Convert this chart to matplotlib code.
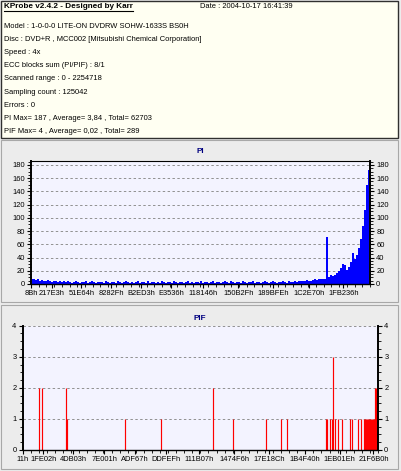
import numpy as np
import matplotlib.pyplot as plt
from matplotlib.patches import Rectangle
from matplotlib.ticker import FixedLocator, MultipleLocator

plt.rcParams['font.family'] = ['Liberation Sans', 'DejaVu Sans']
FS = 5.4     # info text
TFS = 5.4    # tick labels

W, H = 401, 471

# ---- data ----
title = "KProbe v2.4.2 - Designed by Karr"
date_text = "Date : 2004-10-17 16:41:39"
info_lines = [
    "Model : 1-0-0-0 LITE-ON DVDRW SOHW-1633S BS0H",
    "Disc : DVD+R , MCC002 [Mitsubishi Chemical Corporation]",
    "Speed : 4x",
    "ECC blocks sum (PI/PIF) : 8/1",
    "Scanned range : 0 - 2254718",
    "Sampling count : 125042",
    "Errors : 0",
    "PI Max= 187 , Average= 3,84 , Total= 62703",
    "PIF Max= 4 , Average= 0,02 , Total= 289",
]
scan_end = 2254718

pi_ticks = [0x8B, 0x217E3, 0x51E64, 0x8282F, 0xB2ED3, 0xE3536,
            0x118146, 0x150B2F, 0x189BFE, 0x1C2E70, 0x1FB236]
pif_ticks = [0x11, 0x1FE02, 0x4DB03, 0x7E001, 0xADF67, 0xDDFEF,
             0x111B07, 0x1474F6, 0x17E18C, 0x1B4F40, 0x1EB01E, 0x21F6B0]

# PI per sample block (evenly spaced over the scanned range)
pi_vals = [
    8, 7, 6, 7, 5, 6, 4, 5, 6, 4, 3, 5, 4, 3, 4,
    3, 4, 3, 5, 3, 2, 3, 4, 3, 2, 3, 3, 4, 2, 3, 5, 3, 2, 3, 3,
    3, 2, 4, 3, 2, 3, 3, 2, 4, 3, 2, 3, 5, 3, 2, 3, 2, 3, 4, 2,
    3, 3, 2, 4, 2, 3, 3, 2, 3, 2, 4, 3, 2, 3, 3, 2, 5, 3, 2, 3,
    3, 2, 3, 4, 2, 3, 2, 3, 3, 2, 4, 2, 3, 3, 2, 3, 4, 2, 3, 3,
    2, 3, 4, 3, 2, 5, 3, 2, 3, 3, 2, 4, 3, 2, 3, 3, 4, 2, 3, 3,
    2, 3, 5, 3, 2, 3, 4, 3, 2, 3, 3, 4, 3, 2, 4, 3, 3, 5, 3, 4,
    4, 5, 4, 6, 5, 5, 6, 7, 6, 7, 7, 8, 8,
    71,
    11, 13, 12, 14, 16, 20, 24, 31, 28, 21, 26, 33, 47, 38, 44,
    55, 68, 88, 112, 150, 172,
]

# PIF bars: position (LBA) and count
pif_lba = [101535, 124381, 277950, 282393, 647287, 877646, 1209540,
           1336460, 1543972, 1637258, 1679141, 1924729, 1932979, 1952017,
           1962805, 1971055, 1978670, 1997707, 2028168, 2077032, 2087820,
           2129703, 2148741, 2162717, 2169063, 2175409, 2181755, 2188101,
           2194447, 2200793, 2207139, 2213485, 2219831, 2226177, 2232523,
           2238869, 2245215, 2251561]
pif_vals = [2, 2, 2, 1, 1, 1, 2,
            1, 1, 1, 1, 1, 1, 1,
            1, 3, 1, 1, 1, 1, 1,
            1, 1, 1, 1, 1, 1, 1,
            1, 1, 1, 1, 1, 1, 2,
            2, 2, 2]


def fx(px):
    return px / W


def fy(py):
    return 1 - py / H


fig = plt.figure(figsize=(W / 100, H / 100), dpi=100, facecolor='#ECECEC')

# info box
fig.patches.append(Rectangle((fx(1), fy(138)), fx(397), 137 / H, transform=fig.transFigure,
                             facecolor='#FFFFF2', edgecolor='#303030', lw=1.0))
# panel frames
for top, bot in [(140, 302), (305, 469)]:
    fig.patches.append(Rectangle((fx(1), fy(bot)), fx(397), (bot - top) / H,
                                 transform=fig.transFigure, facecolor='none',
                                 edgecolor='#A8A8A8', lw=0.8))

t = fig.text(fx(4), fy(7), title, fontsize=5.9, fontweight='bold', va='center', ha='left')
fig.text(fx(200), fy(7), date_text, fontsize=FS, va='center', ha='left')
for i, line in enumerate(info_lines):
    fig.text(fx(4), fy(26 + i * 13.2), line, fontsize=FS, va='center', ha='left')

# underline title
fig.canvas.draw()
bb = t.get_window_extent(fig.canvas.get_renderer()).transformed(fig.transFigure.inverted())
fig.add_artist(plt.Line2D([bb.x0, bb.x1], [bb.y0 - 0.001, bb.y0 - 0.001],
                          transform=fig.transFigure, color='black', lw=0.8))


def style_axes(ax, ymax, ystep, xt, title_text, title_y):
    ax.set_facecolor('#F3F3FF')
    ax.set_xlim(0, scan_end)
    ax.set_ylim(0, ymax)
    ax.yaxis.set_major_locator(MultipleLocator(ystep))
    ax.xaxis.set_major_locator(FixedLocator(xt))
    ax.set_xticklabels([f"{v:X}h" for v in xt])
    ax.xaxis.set_minor_locator(FixedLocator(np.linspace(0, scan_end, 45)))
    ax.tick_params(axis='both', which='major', labelsize=TFS, length=3, width=0.8, pad=1.5,
                   direction='out')
    ax.tick_params(axis='y', which='both', left=True, right=True, labelleft=True, labelright=True)
    ax.tick_params(axis='x', which='minor', length=2, width=0.6)
    ax.grid(axis='y', color='#909090', linestyle=(0, (2.5, 2.5)), lw=0.7)
    ax.set_axisbelow(True)
    for s in ('left', 'right'):
        ax.spines[s].set_linewidth(1.4)
    ax.spines['bottom'].set_linewidth(1.0)
    fig.text(fx(200), fy(title_y), title_text, fontsize=5.9, fontweight='bold',
             color='#000080', ha='center', va='center')


# PI axes
ax1 = fig.add_axes([fx(31), fy(284), (370 - 31) / W, (284 - 161) / H])
pi_x = (np.arange(len(pi_vals)) + 0.5) * scan_end / len(pi_vals)
ax1.fill_between(pi_x, pi_vals, step='mid', color='#0000FF', lw=0)
style_axes(ax1, 186, 20, pi_ticks, "PI", 152)
ax1.yaxis.set_minor_locator(MultipleLocator(5))
ax1.tick_params(axis='y', which='minor', length=2, width=0.6, left=True, right=True)

# PIF axes
ax2 = fig.add_axes([fx(22.7), fy(450), (378 - 22.7) / W, (450 - 325.7) / H])
ax2.vlines(pif_lba, 0, pif_vals, color='#FF0000', lw=0.85)
style_axes(ax2, 4, 1, pif_ticks, "PIF", 318)
ax2.spines['top'].set_visible(False)
ax2.yaxis.set_minor_locator(MultipleLocator(0.25))
ax2.tick_params(axis='y', which='minor', length=2, width=0.6, left=True, right=True)

fig.savefig('out.png', dpi=100, facecolor=fig.get_facecolor())
